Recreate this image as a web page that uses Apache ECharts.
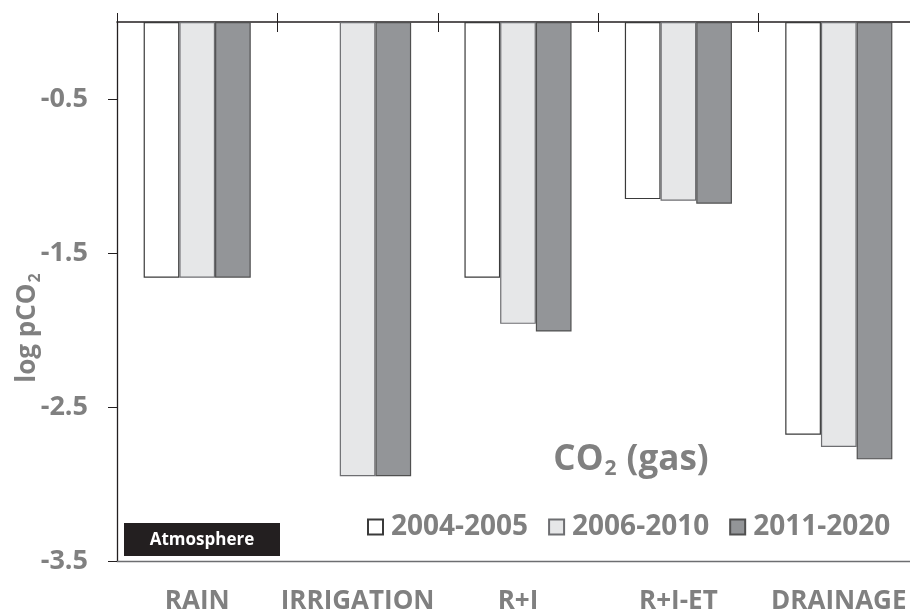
<!DOCTYPE html>
<html><head><meta charset="utf-8">
<script src="https://cdn.jsdelivr.net/npm/echarts@6/dist/echarts.min.js"></script>
<style>html,body{margin:0;padding:0;background:#fff}#c{width:910px;height:613px}</style>
</head><body><div id="c"></div>
<script>
const categories = ['RAIN', 'IRRIGATION', 'R+I', 'R+I-ET', 'DRAINAGE'];
const seriesNames = ['2004-2005', '2006-2010', '2011-2020'];
const values2004_2005 = [-1.66, null, -1.66, -1.15, -2.68];
const values2006_2010 = [-1.66, -2.95, -1.96, -1.16, -2.76];
const values2011_2020 = [-1.66, -2.95, -2.01, -1.18, -2.84];
const yTickValues = [-3.5, -2.5, -1.5, -0.5];

const FONT = '"Open Sans", "DejaVu Sans", sans-serif';
const GRAY = '#808080';
const fills = ['#ffffff', '#e6e7e8', '#939598'];
const borders = ['#3a3a3a', '#6d6e71', '#505050'];
const allValues = [values2004_2005, values2006_2010, values2011_2020];

const chart = echarts.init(document.getElementById('c'), null, {renderer: 'canvas'});
const gridRect = {left: 117, top: 22, width: 802, height: 539, containLabel: false, outerBoundsMode: 'none'};

chart.setOption({
  animation: false,
  backgroundColor: '#fff',
  grid: [Object.assign({}, gridRect), Object.assign({}, gridRect)],
  legend: {
    left: 367, top: 513, padding: 0,
    itemWidth: 15, itemHeight: 15, itemGap: 20, icon: 'rect',
    data: seriesNames,
    textStyle: {color: GRAY, fontSize: 28, fontWeight: 'bold', fontFamily: FONT, padding: [0, 0, 0, 3]}
  },
  xAxis: [
    {
      type: 'category', data: categories, gridIndex: 0, position: 'top',
      axisLine: {show: true, onZero: false, lineStyle: {color: '#231f20', width: 1.5}},
      axisTick: {show: true, length: 9, lineStyle: {color: '#231f20', width: 1}},
      axisLabel: {show: false}, splitLine: {show: false}
    },
    {
      type: 'category', data: categories, gridIndex: 0, position: 'bottom',
      axisLine: {show: true, onZero: false, lineStyle: {color: '#6d6e71', width: 1.3}},
      axisTick: {show: false},
      axisLabel: {show: true, interval: 0, margin: 28, color: GRAY, fontSize: 26, fontWeight: 'bold', fontFamily: FONT},
      splitLine: {show: false}
    },
    {
      type: 'category', data: categories, gridIndex: 1, position: 'top',
      axisLine: {show: false, onZero: false},
      axisTick: {show: true, inside: true, length: 10, lineStyle: {color: '#231f20', width: 1}},
      axisLabel: {show: false}, splitLine: {show: false}
    }
  ],
  yAxis: [
    {
      type: 'value', gridIndex: 0, min: -3.5, max: 0, interval: 1,
      axisLine: {show: true, onZero: false, lineStyle: {color: '#231f20', width: 1.3}},
      axisTick: {show: true, length: 9, customValues: yTickValues, lineStyle: {color: '#231f20', width: 1}},
      axisLabel: {
        show: true, customValues: yTickValues, margin: 29, color: GRAY, fontSize: 27, fontWeight: 'bold', fontFamily: FONT,
        formatter: function (v) { return v === 0 ? '' : v.toFixed(1); }
      },
      splitLine: {show: false}
    },
    {type: 'value', gridIndex: 1, min: -3.5, max: 0, show: false}
  ],
  series: seriesNames.map(function (name, i) {
    return {
      name: name, type: 'bar', xAxisIndex: 0, yAxisIndex: 0,
      data: allValues[i], barWidth: 35.7, barGap: '0%',
      itemStyle: {color: fills[i], borderColor: borders[i], borderWidth: 1.2}
    };
  }),
  graphic: [
    {type: 'rect', shape: {x: 124, y: 523, width: 156, height: 33}, style: {fill: '#231f20'}},
    {type: 'text', x: 202, y: 540, style: {text: 'Atmosphere', fill: '#ffffff', font: 'bold 17px ' + FONT, align: 'center', verticalAlign: 'middle'}},
    {type: 'text', x: 631, y: 460, style: {
      text: '{a|CO}{s|2}{a| (gas)}', align: 'center', verticalAlign: 'middle',
      rich: {
        a: {fill: GRAY, fontSize: 35, fontWeight: 'bold', fontFamily: FONT},
        s: {fill: GRAY, fontSize: 21, fontWeight: 'bold', fontFamily: FONT, padding: [18, 1, 0, 1]}
      }
    }},
    {type: 'text', x: 28, y: 328, rotation: Math.PI / 2, style: {
      text: '{a|log pCO}{s|2}', align: 'center', verticalAlign: 'middle',
      rich: {
        a: {fill: GRAY, fontSize: 26, fontWeight: 'bold', fontFamily: FONT},
        s: {fill: GRAY, fontSize: 16, fontWeight: 'bold', fontFamily: FONT, padding: [14, 0, 0, 1]}
      }
    }}
  ]
});
</script></body></html>
